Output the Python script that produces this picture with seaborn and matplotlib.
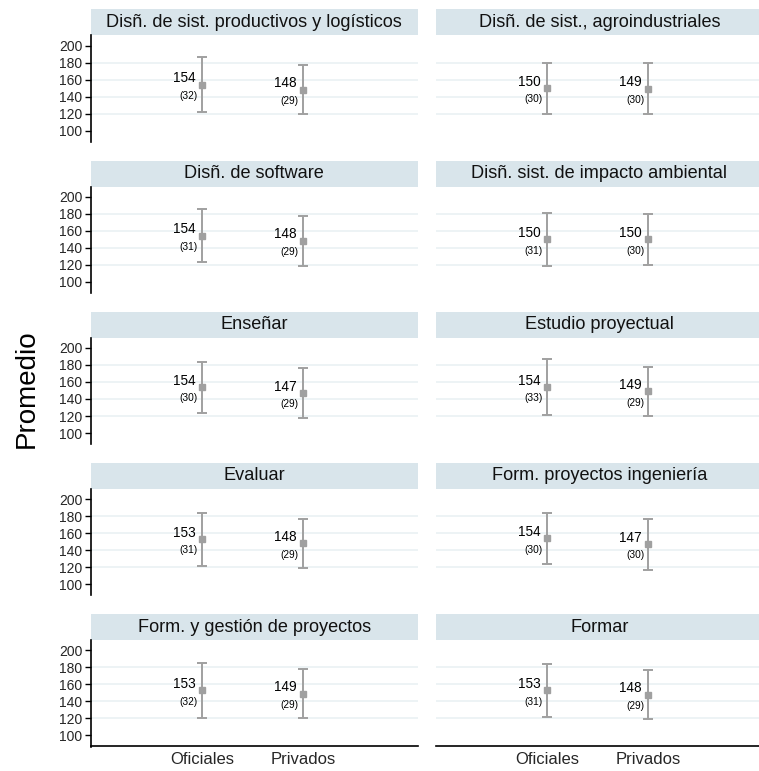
import numpy as np
import pandas as pd
import matplotlib
matplotlib.use("Agg")
import matplotlib.pyplot as plt
from matplotlib.patches import Rectangle
import seaborn as sns

# ---------------- data ----------------
tasks = [
    "Disñ. de sist. productivos y logísticos",
    "Disñ. de sist., agroindustriales",
    "Disñ. de software",
    "Disñ. sist. de impacto ambiental",
    "Enseñar",
    "Estudio proyectual",
    "Evaluar",
    "Form. proyectos ingeniería",
    "Form. y gestión de proyectos",
    "Formar",
]
groups = ["Oficiales", "Privados"]
mean_oficiales = [154, 150, 154, 150, 154, 154, 153, 154, 153, 153]
sd_oficiales = [32, 30, 31, 31, 30, 33, 31, 30, 32, 31]
mean_privados = [148, 149, 148, 150, 147, 149, 148, 147, 149, 148]
sd_privados = [29, 30, 29, 30, 29, 29, 29, 30, 29, 29]
yticks = [100, 120, 140, 160, 180, 200]
ylabel = "Promedio"

rows = []
for i, t in enumerate(tasks):
    rows.append(dict(task=t, group=groups[0], mean=mean_oficiales[i], sd=sd_oficiales[i]))
    rows.append(dict(task=t, group=groups[1], mean=mean_privados[i], sd=sd_privados[i]))
df = pd.DataFrame(rows)

# ---------------- style ----------------
sns.set_theme(style="white")
plt.rcParams["font.family"] = ["Liberation Sans", "DejaVu Sans"]

GRAY = "#a0a0a0"
STRIP = "#d9e5eb"
GRID = "#e8f0f2"


def draw(data, **kw):
    ax = plt.gca()
    ax.errorbar(data["group"], data["mean"], yerr=data["sd"], fmt="s",
                color=GRAY, ecolor=GRAY, elinewidth=1.4, capsize=3.8,
                capthick=1.4, markersize=4.6, zorder=3)
    for g, m, s in zip(data["group"], data["mean"], data["sd"]):
        ax.annotate(f"{m}", (g, m), xytext=(-4.5, 1.8), textcoords="offset points",
                    ha="right", va="baseline", fontsize=9.8, color="black")
        ax.annotate(f"({s})", (g, m), xytext=(-3.0, -4.5), textcoords="offset points",
                    ha="right", va="top", fontsize=7.3, color="black")


g = sns.FacetGrid(df, col="task", col_wrap=2, col_order=tasks, sharex=True,
                  sharey=True, height=1.5, aspect=2.2, despine=False)
g.map_dataframe(draw)
fig = g.figure
fig.set_size_inches(7.59, 7.71)
fig.set_dpi(100)

W, H = 759.0, 771.0
lefts = [90.5, 435.7]
widths = [327.5, 327.5]
top0 = 35.3
pitch = 151.2
ph = 106.4
strip_h = 26.0

for i, ax in enumerate(g.axes.flat):
    r, c = divmod(i, 2)
    top = top0 + r * pitch
    ax.set_position([lefts[c] / W, 1 - (top + ph) / H, widths[c] / W, ph / H])
    ax.set_ylim(87, 212)
    ax.set_xlim(-1.10, 2.136)
    ax.set_title("")
    ax.set_xlabel("")
    ax.set_ylabel("")
    ax.set_facecolor("white")
    for yv in yticks[1:-1]:
        ax.axhline(yv, color=GRID, lw=1.1, zorder=0)
    for s in ["top", "right"]:
        ax.spines[s].set_visible(False)
    # strip
    ax.add_patch(Rectangle((0, 1), 1, strip_h / ph, transform=ax.transAxes,
                           facecolor=STRIP, edgecolor="none", clip_on=False, zorder=1))
    ax.text(0.5, 1 + strip_h / 2 / ph, tasks[i], transform=ax.transAxes,
            ha="center", va="center", fontsize=13.1, color="#111111")
    # y axis
    ax.set_yticks(yticks)
    if c == 0:
        ax.spines["left"].set_visible(True)
        ax.spines["left"].set_color("black")
        ax.spines["left"].set_linewidth(1.2)
        ax.tick_params(axis="y", left=True, labelleft=True, length=4.5, width=1,
                       color="black", labelsize=10, pad=1.5, direction="out")
    else:
        ax.spines["left"].set_visible(False)
        ax.tick_params(axis="y", left=False, labelleft=False)
    # x axis
    if r == 4:
        ax.spines["bottom"].set_visible(True)
        ax.spines["bottom"].set_color("black")
        ax.spines["bottom"].set_linewidth(1.2)
        ax.tick_params(axis="x", bottom=False, labelbottom=True, length=0,
                       labelsize=12, pad=4)
    else:
        ax.spines["bottom"].set_visible(False)
        ax.tick_params(axis="x", bottom=False, labelbottom=False)
    ax.grid(False)

fig.text(27 / W, 1 - 389 / H, ylabel, rotation=90, ha="center", va="center",
         fontsize=20, color="black")

fig.savefig("out.png", dpi=100)
